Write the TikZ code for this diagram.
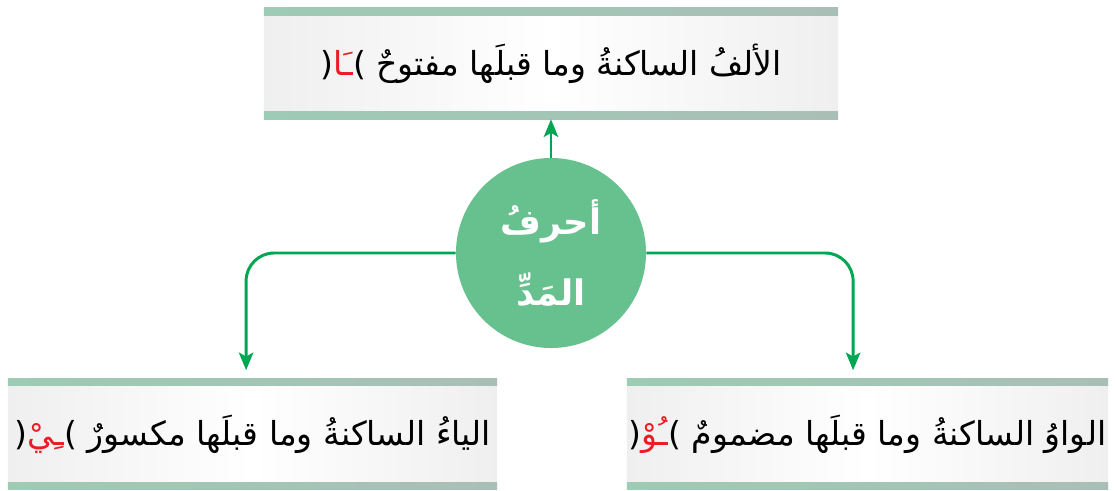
\documentclass[tikz,border=0pt]{standalone}
\usepackage{fontspec}
\usetikzlibrary{arrows.meta}
\TeXXeTstate=1
\newfontfamily\arabicfont[Script=Arabic]{DejaVu Sans}

\definecolor{linkgreen}{HTML}{00A651}
\definecolor{hubgreen}{HTML}{66C18E}
\definecolor{barleft}{HTML}{9DCBB5}
\definecolor{barright}{HTML}{A9BFB6}
\definecolor{panelgray}{HTML}{EFEFEF}
\definecolor{markred}{HTML}{ED1C24}

% red part as L-text, so the colour specials keep their order
\newcommand{\hl}[1]{\beginL{\color{markred}\beginR#1\endR}\endL}

\begin{document}
\begin{tikzpicture}[x=0.025cm, y=-0.025cm,
    panel/.style={rectangle, inner sep=0pt, minimum height=2.775cm,
      left color=panelgray, right color=panelgray, middle color=white,
      font=\arabicfont\fontsize{23.5}{28}\selectfont,
      path picture={
        \shade[left color=barleft, right color=barright]
          (path picture bounding box.north west) rectangle
          ([yshift=-0.18cm]path picture bounding box.north east);
        \shade[left color=barleft, right color=barright]
          (path picture bounding box.south west) rectangle
          ([yshift=0.18cm]path picture bounding box.south east);
      }},
    hub/.style={circle, fill=hubgreen, minimum size=4.75cm, inner sep=0pt,
      align=center, text=white, font=\arabicfont\bfseries\fontsize{25}{50}\selectfont},
    link/.style={linkgreen, line width=2.1pt, rounded corners=0.7cm,
      -{Stealth[length=0.44cm, width=0.36cm, inset=0.1cm]}}]

  \useasboundingbox (0,0) rectangle (1115,491);

  \node[panel, minimum width=14.35cm] (alif) at (551,63.5)
    {\beginR الألفُ الساكنةُ وما قبلَها مفتوحٌ )\hl{ـَا}(\endR};
  \node[panel, minimum width=12.225cm] (ya) at (252.5,434)
    {\beginR الياءُ الساكنةُ وما قبلَها مكسورٌ )\hl{ـِيْ}(\endR};
  \node[panel, minimum width=12.025cm] (waw) at (867.5,434)
    {\beginR الواوُ الساكنةُ وما قبلَها مضمومٌ )\hl{ـُوْ}(\endR};

  \node[hub] (mad) at (551,253)
    {\beginR أحرفُ\endR\\ \beginR المَدِّ\endR};

  \draw[link] (mad) -- (alif);
  \draw[link, shorten >=0.2cm] (mad.west) -| ([xshift=-0.16cm]ya.north);
  \draw[link, shorten >=0.2cm] (mad.east) -| ([xshift=-0.36cm]waw.north);

\end{tikzpicture}
\end{document}
